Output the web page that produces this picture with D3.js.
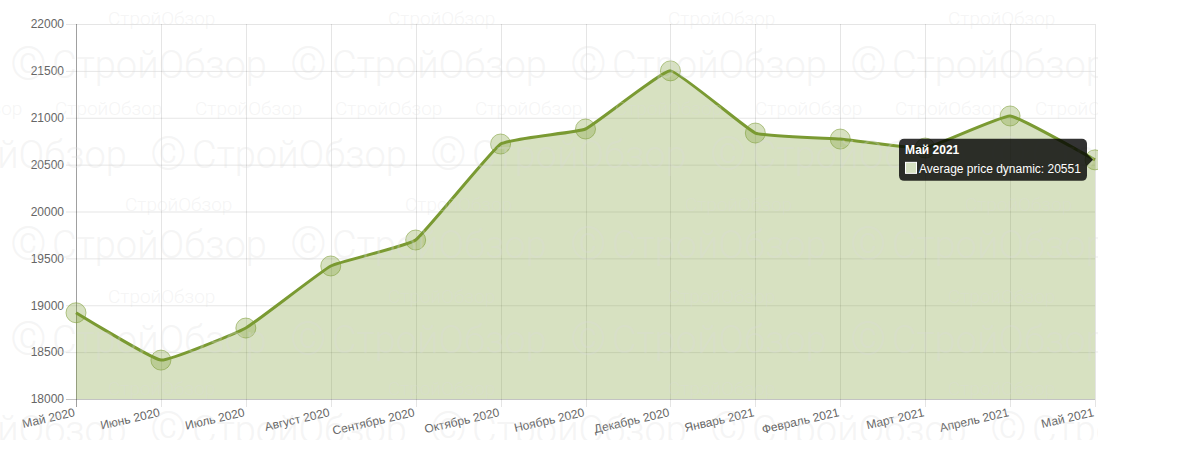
<!DOCTYPE html>
<html>
<head>
<meta charset="utf-8">
<script src="https://cdn.jsdelivr.net/npm/d3@7"></script>
<style>
  body { margin: 0; background: #fff; }
  svg { display: block; font-family: Arial, "Liberation Sans", Helvetica, sans-serif; }
  .tick text { fill: #666; font-size: 12px; }
</style>
</head>
<body>
<div id="chart"></div>
<script>
const months = ["Май 2020", "Июнь 2020", "Июль 2020", "Август 2020", "Сентябрь 2020", "Октябрь 2020",
    "Ноябрь 2020", "Декабрь 2020", "Январь 2021", "Февраль 2021", "Март 2021", "Апрель 2021", "Май 2021"];
const prices = [18920, 18415, 18757, 19419, 19696, 20720, 20880, 21500, 20837, 20773, 20677, 21019, 20551];
const yTicks = [18000, 18500, 19000, 19500, 20000, 20500, 21000, 21500, 22000];
const seriesName = "Average price dynamic";
const hoverIndex = 12;

const width = 1178, height = 470;
const canvasW = 1098, canvasH = 440;
const margin = { top: 24, left: 76, right: 3, bottom: 41 };

const svg = d3.select("#chart").append("svg")
    .attr("width", width)
    .attr("height", height);

svg.append("defs").append("clipPath")
    .attr("id", "canvas-clip")
    .append("rect")
    .attr("width", canvasW)
    .attr("height", canvasH);

const root = svg.append("g").attr("clip-path", "url(#canvas-clip)");

const x = d3.scalePoint()
    .domain(months)
    .range([margin.left, canvasW - margin.right]);

const y = d3.scaleLinear()
    .domain([18000, 22000])
    .range([canvasH - margin.bottom, margin.top]);

const data = months.map((m, i) => ({ month: m, value: prices[i] }));

// grid
root.append("g").selectAll("line")
    .data(yTicks)
    .enter().append("line")
    .attr("x1", margin.left - 10)
    .attr("x2", x.range()[1])
    .attr("y1", d => y(d) + 0.5)
    .attr("y2", d => y(d) + 0.5)
    .attr("stroke", "rgba(0,0,0,0.1)");

root.append("g").selectAll("line")
    .data(months)
    .enter().append("line")
    .attr("x1", d => Math.round(x(d)) + 0.5)
    .attr("x2", d => Math.round(x(d)) + 0.5)
    .attr("y1", y.range()[1])
    .attr("y2", y.range()[0] + 8)
    .attr("stroke", "rgba(0,0,0,0.1)");

// axes lines
root.append("line")
    .attr("x1", margin.left + 0.5).attr("x2", margin.left + 0.5)
    .attr("y1", y.range()[1]).attr("y2", y.range()[0] + 8)
    .attr("stroke", "rgba(0,0,0,0.3)");
root.append("line")
    .attr("x1", margin.left - 10).attr("x2", x.range()[1])
    .attr("y1", y.range()[0] + 0.5).attr("y2", y.range()[0] + 0.5)
    .attr("stroke", "rgba(0,0,0,0.15)");

// y axis labels
const yAxis = d3.axisLeft(y).tickValues(yTicks).tickSize(0).tickPadding(12).tickFormat(d3.format("d"));
root.append("g")
    .attr("transform", `translate(${margin.left},0)`)
    .call(yAxis)
    .call(g => g.select(".domain").remove());

// x axis labels
const xAxis = d3.axisBottom(x).tickSize(0).tickPadding(0);
root.append("g")
    .attr("transform", `translate(0,${y.range()[0]})`)
    .call(xAxis)
    .call(g => g.select(".domain").remove())
    .selectAll("text")
    .attr("dy", null)
    .attr("y", 0)
    .attr("transform", "translate(-1,17) rotate(-13)")
    .style("text-anchor", "end");

// area + line
const curve = d3.curveCardinal.tension(0.7);
const area = d3.area()
    .x(d => x(d.month))
    .y0(y(18000))
    .y1(d => y(d.value))
    .curve(curve);
const line = d3.line()
    .x(d => x(d.month))
    .y(d => y(d.value))
    .curve(curve);

root.append("path")
    .datum(data)
    .attr("d", area)
    .attr("fill", "rgba(122,154,50,0.3)");

root.append("path")
    .datum(data)
    .attr("d", line)
    .attr("fill", "none")
    .attr("stroke", "#7a9a32")
    .attr("stroke-width", 3);

root.append("g").selectAll("circle")
    .data(data)
    .enter().append("circle")
    .attr("cx", d => x(d.month))
    .attr("cy", d => y(d.value))
    .attr("r", 10)
    .attr("fill", "rgba(122,154,50,0.3)")
    .attr("stroke", "rgba(122,154,50,0.55)")
    .attr("stroke-width", 1);

// watermark
const wm = root.append("g")
    .attr("fill", "#dcdcdc")
    .attr("fill-opacity", 0.3)
    .style("font-family", "Roboto, 'Open Sans', sans-serif")
    .style("font-weight", 300);

const bigRows = [[65, 52], [155, -88], [245, 52], [340, 52], [430, -88]];
bigRows.forEach(([cy, off]) => {
    for (let sx = off - 280; sx < canvasW; sx += 280) {
        wm.append("text").attr("x", sx).attr("y", cy + 13)
            .style("font-size", "38px").text("СтройОбзор");
        wm.append("text").attr("x", sx + 238).attr("y", cy + 15)
            .style("font-size", "46px").text("©");
    }
});
const smallRows = [[18, 108, 280], [108, 55, 140], [204, 125, 280], [296, 108, 280], [388, 108, 280]];
smallRows.forEach(([cy, off, step]) => {
    for (let sx = off - step; sx < canvasW; sx += step) {
        wm.append("text").attr("x", sx).attr("y", cy + 7)
            .style("font-size", "19px").text("СтройОбзор");
    }
});

// tooltip
const hp = data[hoverIndex];
const px = x(hp.month), py = y(hp.value);
const tipW = 188, tipH = 42;
const tx = px - 8 - tipW, ty = py - tipH / 2;
const tip = svg.append("g");
tip.append("rect")
    .attr("x", tx).attr("y", ty)
    .attr("width", tipW).attr("height", tipH)
    .attr("rx", 5)
    .attr("fill", "rgba(0,0,0,0.8)");
tip.append("path")
    .attr("d", `M${tx + tipW},${py - 6}L${px - 2},${py}L${tx + tipW},${py + 6}Z`)
    .attr("fill", "rgba(0,0,0,0.8)");
tip.append("text")
    .attr("x", tx + 6).attr("y", ty + 15)
    .attr("fill", "#fff")
    .style("font-size", "12px")
    .style("font-weight", "bold")
    .text(hp.month);
tip.append("rect")
    .attr("x", tx + 6.5).attr("y", ty + 23.5)
    .attr("width", 11).attr("height", 11)
    .attr("fill", "#d5e0c0")
    .attr("stroke", "#fff");
tip.append("text")
    .attr("x", tx + 20).attr("y", ty + 34)
    .attr("fill", "#fff")
    .style("font-size", "12px")
    .text(`${seriesName}: ${hp.value}`);
</script>
</body>
</html>
